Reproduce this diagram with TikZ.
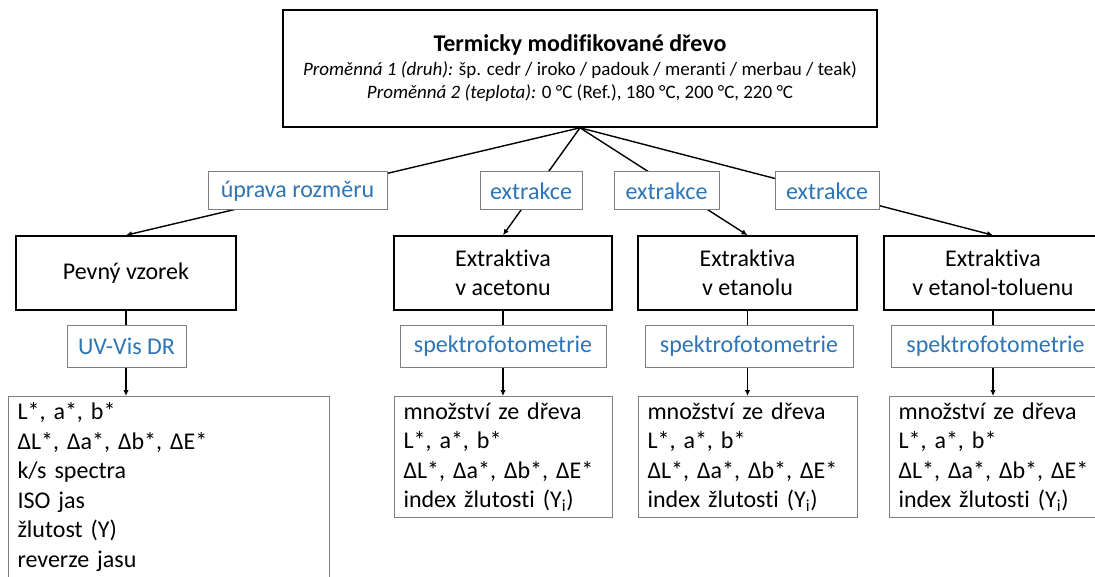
\documentclass[tikz,border=0pt]{standalone}
\usepackage{fontspec}
\setmainfont[Ligatures=NoCommon]{Carlito}
\usetikzlibrary{arrows.meta}
\definecolor{lblue}{HTML}{2E75B6}
\definecolor{bgray}{HTML}{7F7F7F}
\begin{document}
\begin{tikzpicture}[x=1pt,y=-1pt,
  mainbox/.style={draw=black,line width=1.6pt,fill=white,align=center,font=\fontsize{24}{29}\selectfont,inner sep=0pt},
  lbl/.style={draw=bgray,line width=1pt,fill=white,text=lblue,font=\fontsize{24}{29}\selectfont,inner sep=0pt},
  resbox/.style={draw=bgray,line width=1pt,fill=white,align=left,font=\fontsize{24}{29.5}\selectfont,anchor=north west,inner xsep=9pt,inner ysep=6pt},
  conn/.style={line width=1.4pt,-{Latex[length=6pt,width=5.5pt]}}
]
\clip (0,0) rectangle (1095,577);
\fill[white] (0,0) rectangle (1095,577);
% main boxes
\node[mainbox,minimum width=594,minimum height=117,font=\fontsize{19}{23.5}\selectfont] (top) at (580,68.5)
 {{\fontsize{24}{27}\selectfont\bfseries Termicky modifikované dřevo}\\
  \textit{Proměnná 1 (druh):} šp. cedr / iroko / padouk / meranti / merbau / teak)\\
  \textit{Proměnná 2 (teplota):} 0 °C (Ref.), 180 °C, 200 °C, 220 °C};
\node[mainbox,minimum width=220,minimum height=74] (pev) at (126,273) {Pevný vzorek};
\node[mainbox,minimum width=218,minimum height=74] (ace) at (503,273) {Extraktiva\\v acetonu};
\node[mainbox,minimum width=219,minimum height=74] (eta) at (747.5,273) {Extraktiva\\v etanolu};
\node[mainbox,minimum width=218,minimum height=74] (tol) at (993,273) {Extraktiva\\v etanol-toluenu};
% result boxes
\node[resbox,text width=303] (r1) at (8,396) {L*, a*, b*\\ΔL*, Δa*, Δb*, ΔE*\\k/s spectra\\ISO jas\\žlutost (Y)\\reverze jasu\\[4pt]};
\node[resbox,text width=200] (r2) at (394,396) {množství ze dřeva\\L*, a*, b*\\ΔL*, Δa*, Δb*, ΔE*\\index žlutosti (Y\textsubscript{i})};
\node[resbox,text width=201] (r3) at (638,396) {množství ze dřeva\\L*, a*, b*\\ΔL*, Δa*, Δb*, ΔE*\\index žlutosti (Y\textsubscript{i})};
\node[resbox,text width=230] (r4) at (889,396) {množství ze dřeva\\L*, a*, b*\\ΔL*, Δa*, Δb*, ΔE*\\index žlutosti (Y\textsubscript{i})};
% connectors
\draw[conn] (top.south) -- (pev.north);
\draw[conn] (top.south) -- (ace.north);
\draw[conn] (top.south) -- (eta.north);
\draw[conn] (top.south) -- (tol.north);
\draw[conn] (pev.south) -- (pev.south |- r1.north);
\draw[conn] (ace.south) -- (ace.south |- r2.north);
\draw[conn] (eta.south) -- (eta.south |- r3.north);
\draw[conn] (tol.south) -- (tol.south |- r4.north);
% labels
\node[lbl,minimum width=179,minimum height=38] (l1) at (297.5,191) {úprava rozměru};
\node[lbl,minimum width=102,minimum height=38] (l2) at (531,191) {extrakce};
\node[lbl,minimum width=105,minimum height=38] (l3) at (666.5,191) {extrakce};
\node[lbl,minimum width=104,minimum height=38] (l4) at (827,191) {extrakce};
\node[lbl,minimum width=119,minimum height=41] (s1) at (126.5,346.5) {UV-Vis DR};
\node[lbl,minimum width=206,minimum height=41] (s2) at (503,346.5) {spektrofotometrie};
\node[lbl,minimum width=208,minimum height=41] (s3) at (749,346.5) {spektrofotometrie};
\node[lbl,minimum width=209,minimum height=41] (s4) at (995.5,346.5) {spektrofotometrie};
\end{tikzpicture}
\end{document}
